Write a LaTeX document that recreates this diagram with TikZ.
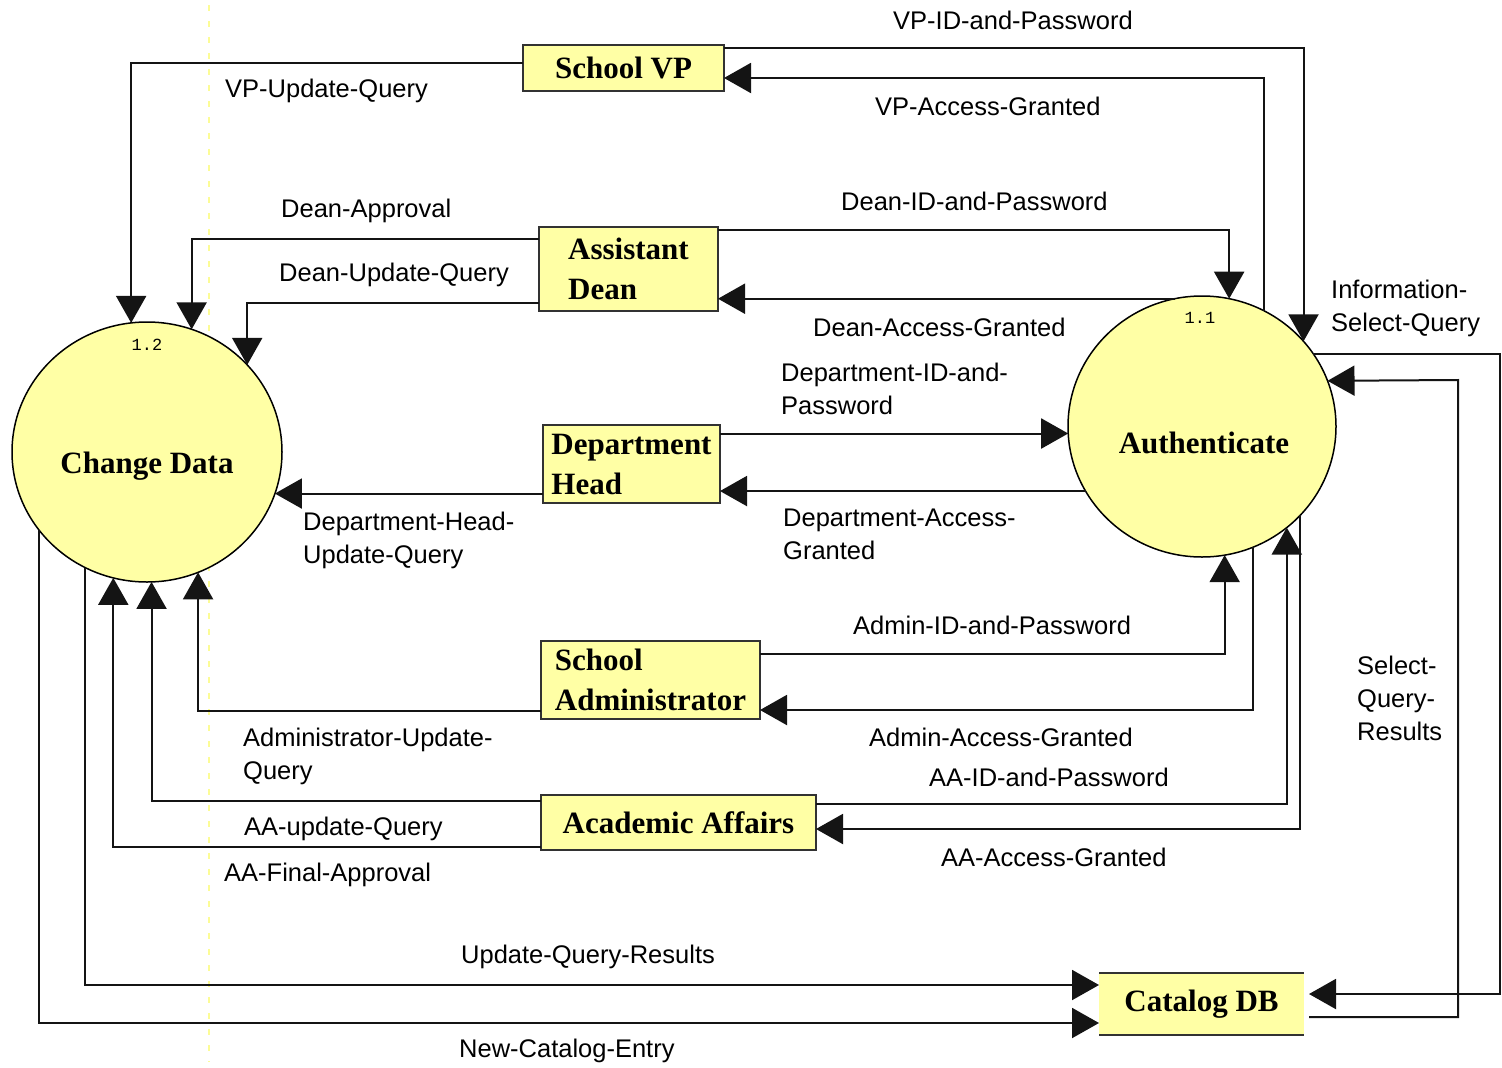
\documentclass[tikz,border=0pt]{standalone}
\usepackage{fontspec}
\setmainfont{Liberation Serif}
\newfontfamily\lblfont{Liberation Sans}
\newfontfamily\numfont{Liberation Mono}
\usetikzlibrary{arrows.meta,shapes.geometric}
\definecolor{procfill}{RGB}{255,255,165}
\definecolor{edgecol}{RGB}{20,20,20}
\definecolor{boxline}{RGB}{50,50,50}
\definecolor{guide}{RGB}{252,252,150}
\begin{document}
\begin{tikzpicture}[x=1pt,y=-1pt,
  flow/.style={draw=edgecol, line width=2pt, -{Triangle[length=27pt,width=30pt]}},
  entity/.style={rectangle, draw=boxline, line width=2pt, fill=procfill, inner sep=0pt, outer sep=0pt,
    font=\bfseries\fontsize{31}{40}\selectfont, align=left},
  process/.style={ellipse, draw=black, line width=1.5pt, fill=procfill, inner sep=0pt, outer sep=0pt},
  ptitle/.style={font=\bfseries\fontsize{31}{38}\selectfont, inner sep=0pt},
  pnum/.style={font=\numfont\fontsize{17}{20}\selectfont, inner sep=0pt},
  lbl/.style={font=\lblfont\fontsize{25.5}{33}\selectfont, inner sep=0pt, anchor=west, align=left}]
\useasboundingbox (0,0) rectangle (1502,1068);
\fill[white] (0,0) rectangle (1502,1068);
% faint guide line
\draw[guide, line width=1.5pt, dash pattern=on 6pt off 10pt] (209,5) -- (209,1062);

% processes
\node[process, minimum width=270pt, minimum height=260pt] (cd) at (147,452) {};
\node[process, minimum width=268pt, minimum height=261pt] (au) at (1202,426.5) {};
\node[ptitle] (cdT) at (147,466) {Change Data};
\node[ptitle] (auT) at (1204,443) {Authenticate};
\node[pnum] (cdN) at (147,345) {1.2};
\node[pnum] (auN) at (1200,318) {1.1};

% external entities
\node[entity, minimum width=201pt, minimum height=46pt] (vp) at (623.5,68) {School VP};
\node[entity, minimum width=179pt, minimum height=84pt] (ad) at (628.5,269) {Assistant\\Dean};
\node[entity, minimum width=177pt, minimum height=78pt] (dh) at (631.5,464) {Department\\Head};
\node[entity, minimum width=219pt, minimum height=78pt] (sa) at (650.5,680) {School\\Administrator};
\node[entity, minimum width=275pt, minimum height=55pt] (aa) at (678.5,822.5) {Academic Affairs};

% data store
\node[rectangle, fill=procfill, minimum width=205pt, minimum height=62pt, inner sep=0pt, outer sep=0pt,
  font=\bfseries\fontsize{31}{38}\selectfont] (db) at (1201.5,1004) {Catalog DB};
\draw[boxline, line width=2.5pt] (db.north west) -- (db.north east) (db.south west) -- (db.south east);

% flows: School VP
\draw[flow] (vp.west |- 0,63) -| (cd.97);
\draw[flow] (vp.east |- 0,48) -| (au.40.9);
\draw[flow] (au.62.7) |- (vp.east |- 0,78);
% Assistant Dean
\draw[flow] (ad.west |- 0,239) -| (cd.70.3);
\draw[flow] (ad.west |- 0,303) -| (cd.41.1);
\draw[flow] (ad.east |- 0,230) -| (au.78.5);
\draw[flow] (au.102.7) -- (ad.east |- au.102.7);
% Department Head
\draw[flow] (dh.east |- au.-177.9) -- (au.-177.9);
\draw[flow] (au.-151.7) -- (dh.east |- au.-151.7);
\draw[flow] (dh.west |- cd.-18.2) -- (cd.-18.2);
% School Administrator
\draw[flow] (sa.east |- 0,654) -| (au.-80.3);
\draw[flow] (au.-67.5) |- (sa.east |- 0,710);
\draw[flow] (sa.west |- 0,711) -| (cd.-67.5);
% Academic Affairs
\draw[flow] (aa.east |- 0,804) -| (au.-50.9);
\draw[flow] (au.-42.2) |- (aa.east |- 0,829);
\draw[flow] (aa.west |- 0,801) -| (cd.-88.2);
\draw[flow] (aa.west |- 0,847) -| (cd.-105.1);
% Catalog DB
\draw[flow] (cd.-118.2) |- (db.west |- 0,985);
\draw[flow] (cd.-144.9) |- (db.west |- 0,1023);
\draw[flow] (au.33.9) -| (1500,994) -- ([xshift=5pt]db.east |- 0,994);
\draw[flow] ([xshift=5pt]db.east |- 0,1017) -| (1458,380) -- (au.20.2);

% labels
\node[lbl] (l1) at (893,20) {VP-ID-and-Password};
\node[lbl] (l2) at (225,91) {VP-Update-Query};
\node[lbl] (l3) at (875,106) {VP-Access-Granted};
\node[lbl] (l4) at (281,211) {Dean-Approval};
\node[lbl] (l5) at (841,201) {Dean-ID-and-Password};
\node[lbl] (l6) at (279,275) {Dean-Update-Query};
\node[lbl] (l7) at (1331,308.5) {Information-\\Select-Query};
\node[lbl] (l8) at (813,327) {Dean-Access-Granted};
\node[lbl] (l9) at (781,388.5) {Department-ID-and-\\Password};
\node[lbl] (l10) at (783,534.5) {Department-Access-\\Granted};
\node[lbl] (l11) at (303,540) {Department-Head-\\Update-Query};
\node[lbl] (l12) at (853,625) {Admin-ID-and-Password};
\node[lbl] (l13) at (1357,698) {Select-\\Query-\\Results};
\node[lbl] (l14) at (243,756.5) {Administrator-Update-\\Query};
\node[lbl] (l15) at (869,737) {Admin-Access-Granted};
\node[lbl] (l16) at (929,777) {AA-ID-and-Password};
\node[lbl] (l17) at (244,829) {AA-update-Query};
\node[lbl] (l18) at (941,857) {AA-Access-Granted};
\node[lbl] (l19) at (224,875) {AA-Final-Approval};
\node[lbl] (l20) at (461,957) {Update-Query-Results};
\node[lbl] (l21) at (459,1051) {New-Catalog-Entry};
\end{tikzpicture}
\end{document}
